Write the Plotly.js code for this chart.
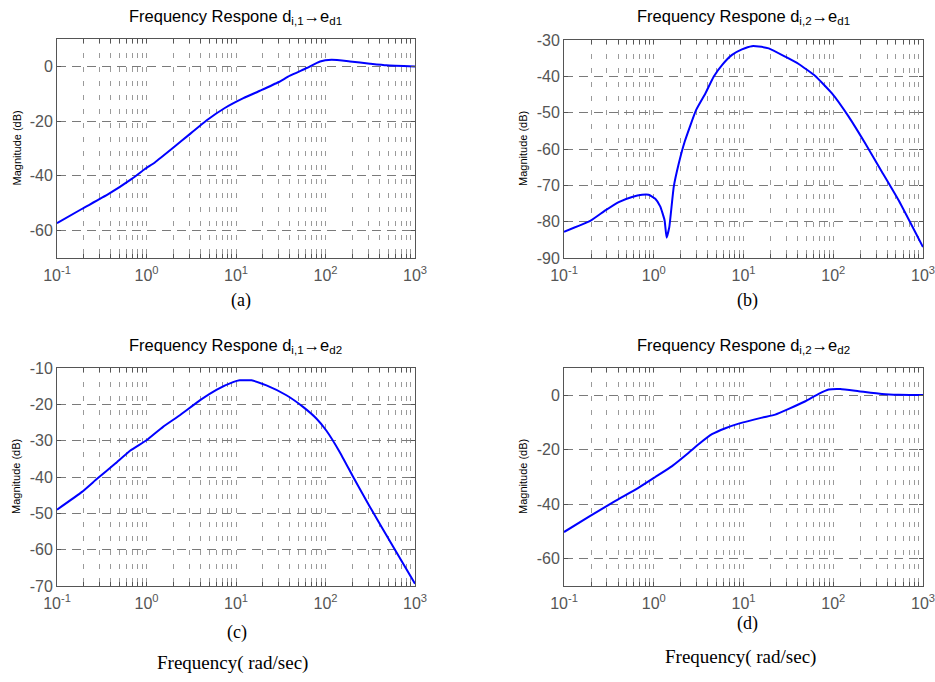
<!DOCTYPE html>
<html>
<head>
<meta charset="utf-8">
<script src="https://cdn.plot.ly/plotly-3.0.1.min.js"></script>
<style>html,body{margin:0;padding:0;background:#fff;}#chart{width:935px;height:682px;}</style>
</head>
<body>
<div id="chart"></div>
<script>
// ---- Data ----
const freqA = [0.1, 0.189, 0.374, 0.684, 0.96, 1.24, 2.08, 2.93, 4.8, 7.5, 12.1, 18.5, 29.7, 40.1, 61.6, 86.9, 117, 188, 314, 480, 1000];
const magA  = [-57.3, -52.1, -46.7, -41.1, -37.5, -35.1, -29.2, -25.2, -19.5, -15.2, -11.6, -8.9, -5.8, -3.4, -0.6, 1.8, 2.4, 1.8, 1.0, 0.4, 0];

const freqB = [0.1, 0.196, 0.289, 0.407, 0.573, 0.74, 0.877, 1.04, 1.18, 1.32, 1.39, 1.49, 1.67, 1.9, 2.21, 2.96, 3.76, 4.65, 5.76, 7.45, 9.6, 12.4, 14.8, 19.1, 29.2, 41.2, 63, 96.8, 148.5, 227.6, 349, 535, 1000];
const magB  = [-82.8, -79.8, -76.9, -74.6, -73.2, -72.6, -72.6, -73.7, -75.8, -79.6, -84.4, -81.5, -70.4, -64, -58, -49.3, -44.7, -40.1, -36.9, -34.1, -32.6, -31.7, -31.8, -32.3, -34.6, -36.6, -39.9, -44.7, -51.1, -58.5, -66.3, -74.1, -87];

const freqC = [0.1, 0.19, 0.28, 0.448, 0.66, 1.0, 1.53, 2.36, 3.94, 6.04, 9.27, 11, 14.9, 21.9, 36.6, 56.1, 79, 102, 144, 204, 315, 573, 1000];
const magC  = [-49, -44.1, -40.5, -36.3, -32.7, -29.9, -26.2, -23, -18.9, -16, -13.9, -13.4, -13.4, -14.8, -17.5, -20.7, -23.9, -27.2, -33.1, -40, -48.3, -59.3, -69.4];

const freqD = [0.1, 0.188, 0.374, 0.68, 1.04, 1.6, 2.45, 3.16, 4.45, 6.28, 8.84, 16.1, 22.6, 31.9, 48.9, 68.8, 89, 120, 192, 349, 535, 1000];
const magD  = [-50.2, -44.6, -38.8, -33.9, -30, -26, -21.1, -18, -14.3, -12.1, -10.4, -8.2, -7.1, -5, -2.2, 0.5, 2.1, 2.3, 1.5, 0.5, 0.2, 0.1];

const panelTitles = [
  "Frequency Respone d<sub>i,1</sub>→e<sub>d1</sub>",
  "Frequency Respone d<sub>i,2</sub>→e<sub>d1</sub>",
  "Frequency Respone d<sub>i,1</sub>→e<sub>d2</sub>",
  "Frequency Respone d<sub>i,2</sub>→e<sub>d2</sub>"
];
const panelLetters = ["(a)", "(b)", "(c)", "(d)"];
const yTicksA = [-60, -40, -20, 0];
const yTicksB = [-90, -80, -70, -60, -50, -40, -30];
const yTicksC = [-70, -60, -50, -40, -30, -20, -10];
const yTicksD = [-60, -40, -20, 0];
const yRanges = [[-70, 10], [-90, -30], [-70, -10], [-70, 10]];
const xLabel = "Frequency( rad/sec)";
const yLabel = "Magnitude (dB)";

// ---- Build ----
const W = 935, H = 682;
const xTickVals = [], xTickText = [];
for (let e = -1; e <= 3; e++) {
  for (let m = 1; m <= 9; m++) {
    if (e === 3 && m > 1) break;
    xTickVals.push(m * Math.pow(10, e));
    xTickText.push(m === 1 ? "10<sup>" + e + "</sup>" : "");
  }
}

const px = (a, b) => [a / W, b / W];
const py = (top, bot) => [1 - bot / H, 1 - top / H];
const xDomains = [px(57, 415), px(564, 923), px(57, 415), px(564, 923)];
const yDomains = [py(39, 258), py(40, 258), py(368, 586), py(368, 586)];
const yTicks = [yTicksA, yTicksB, yTicksC, yTicksD];
const series = [[freqA, magA], [freqB, magB], [freqC, magC], [freqD, magD]];
const tickFont = {family: "Liberation Sans, Arial, sans-serif", size: 16, color: "#555"};

const traces = [];
const layout = {
  width: W, height: H,
  margin: {l: 0, r: 0, t: 0, b: 0},
  paper_bgcolor: "#fff", plot_bgcolor: "#fff",
  showlegend: false,
  font: {family: "Liberation Sans, Arial, sans-serif"},
  annotations: []
};

for (let i = 0; i < 4; i++) {
  const sx = i === 0 ? "" : String(i + 1);
  traces.push({
    x: series[i][0], y: series[i][1],
    xaxis: "x" + sx, yaxis: "y" + sx,
    type: "scatter", mode: "lines",
    line: {color: "#0000ff", width: 2, shape: "spline", smoothing: 0.4},
    hoverinfo: "skip"
  });
  layout["xaxis" + sx] = {
    type: "log", domain: xDomains[i], range: [-1, 3],
    anchor: "y" + sx,
    tickmode: "array", tickvals: xTickVals, ticktext: xTickText,
    showgrid: true, gridcolor: "#9a9a9a", gridwidth: 1, griddash: "5px,9px",
    showline: true, linecolor: "#555", linewidth: 1, mirror: "allticks",
    ticks: "inside", ticklen: 4, tickcolor: "#555",
    tickfont: tickFont, ticklabelstandoff: 3, ticklabeloverflow: "allow",
    zeroline: false, fixedrange: true
  };
  layout["yaxis" + sx] = {
    domain: yDomains[i], range: yRanges[i],
    anchor: "x" + sx,
    tickmode: "array", tickvals: yTicks[i], ticktext: yTicks[i].map(v => String(v)),
    showgrid: true, gridcolor: "#7a7a7a", gridwidth: 1, griddash: "9px,6px",
    showline: true, linecolor: "#555", linewidth: 1, mirror: "allticks",
    ticks: "inside", ticklen: 4, tickcolor: "#555",
    tickfont: tickFont, ticklabeloverflow: "allow",
    zeroline: false, fixedrange: true
  };
  const xc = (xDomains[i][0] + xDomains[i][1]) / 2;
  const topPx = i < 2 ? 17 : 346;
  layout.annotations.push({
    text: panelTitles[i], xref: "paper", yref: "paper",
    x: xc, y: 1 - topPx / H, xanchor: "center", yanchor: "middle",
    showarrow: false, font: {size: 16.5, color: "#000", family: "Liberation Sans, Arial, sans-serif"}
  });
  const yMid = (yDomains[i][0] + yDomains[i][1]) / 2;
  const yTitleX = i % 2 === 0 ? 16 : 523;
  layout.annotations.push({
    text: yLabel, xref: "paper", yref: "paper",
    x: yTitleX / W, y: yMid, xanchor: "center", yanchor: "middle", textangle: -90,
    showarrow: false, font: {size: 11, color: "#000", family: "Liberation Sans, Arial, sans-serif"}
  });
  const letterX = [241, 747, 237, 747][i];
  const letterY = [300, 300, 632, 623][i];
  layout.annotations.push({
    text: panelLetters[i], xref: "paper", yref: "paper",
    x: letterX / W, y: 1 - letterY / H, xanchor: "center", yanchor: "middle",
    showarrow: false, font: {size: 18, color: "#000", family: "Liberation Serif, Times New Roman, serif"}
  });
}
layout.annotations.push({
  text: xLabel, xref: "paper", yref: "paper",
  x: 232 / W, y: 1 - 663 / H, xanchor: "center", yanchor: "middle",
  showarrow: false, font: {size: 19, color: "#000", family: "Liberation Serif, Times New Roman, serif"}
});
layout.annotations.push({
  text: xLabel, xref: "paper", yref: "paper",
  x: 740 / W, y: 1 - 657 / H, xanchor: "center", yanchor: "middle",
  showarrow: false, font: {size: 19, color: "#000", family: "Liberation Serif, Times New Roman, serif"}
});

Plotly.newPlot("chart", traces, layout, {staticPlot: true, displayModeBar: false});
</script>
</body>
</html>
